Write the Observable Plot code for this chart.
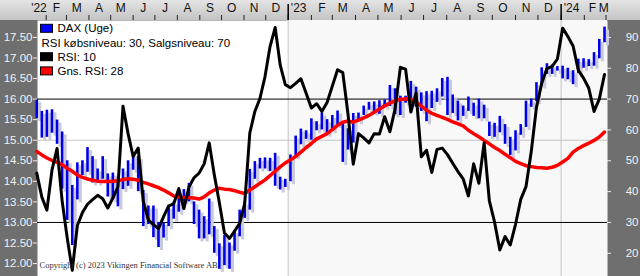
<!DOCTYPE html>
<html><head><meta charset="utf-8">
<script src="https://cdn.jsdelivr.net/npm/d3@7"></script>
<script src="https://cdn.jsdelivr.net/npm/@observablehq/plot@0.6"></script>
<style>
html,body{margin:0;padding:0;background:#fff;}
#chart svg{display:block;}
</style></head><body><div id="chart"></div>
<script>
// Weekly bars (Wednesday of each week), DAX in thousands
const weeks = d3.utcWednesday.range(new Date("2022-01-19"), new Date("2024-03-01"));

const high = [
  15.99,15.70,15.73,15.74,15.49,15.20,14.50,13.90,14.45,14.50,14.82,14.60,14.30,14.60,14.18,14.20,14.05,14.30,14.50,14.67,
  14.60,13.78,13.40,13.40,13.00,13.00,13.40,13.50,13.70,13.80,13.95,13.50,13.30,13.14,13.57,12.90,12.48,12.68,12.50,12.80,
  13.30,13.50,14.29,14.48,14.56,14.57,14.56,14.68,14.10,14.05,
  14.64,15.10,15.27,15.23,15.52,15.45,15.66,15.50,15.60,15.71,15.43,15.28,15.65,15.66,15.83,15.92,15.93,15.96,15.98,16.33,
  16.25,16.07,16.07,16.43,16.29,16.15,16.18,16.19,16.25,16.50,16.53,16.10,15.95,15.83,16.05,15.90,16.00,15.85,15.44,15.41,
  15.58,15.38,15.07,15.23,15.38,15.95,16.00,16.40,16.76,16.86,16.83,16.79,
  16.80,16.75,16.69,16.97,16.98,16.96,17.13,17.45,17.75
];
const low = [
  15.53,15.05,15.07,15.17,14.90,13.81,13.05,12.44,13.55,14.14,14.22,13.96,13.96,14.05,13.62,13.55,13.38,13.80,13.88,14.27,
  13.75,12.90,12.95,12.63,12.39,12.62,12.90,13.08,13.25,13.50,13.50,12.95,12.60,12.60,12.70,12.25,11.86,11.95,11.86,12.30,
  12.65,13.10,13.30,14.05,14.30,14.30,14.24,13.88,13.79,13.85,
  13.99,14.60,14.89,15.02,15.00,15.23,15.25,15.15,15.23,15.36,14.46,14.76,14.93,15.45,15.60,15.73,15.66,15.63,15.80,15.82,
  15.62,15.60,15.90,15.88,15.80,15.70,15.45,15.77,15.92,16.05,15.60,15.65,15.47,15.58,15.70,15.58,15.52,15.52,15.09,15.07,
  15.18,14.90,14.63,14.74,15.12,15.31,15.80,15.94,16.32,16.60,16.60,16.68,
  16.49,16.47,16.35,16.62,16.75,16.79,16.80,16.98,17.37
];
// RSI (10) and its 28-week average
const rsi = [
  46,38.2,34,47,54,37,25,14.5,29,33.2,35.9,37.4,38.8,37.7,34.7,37.9,41.5,67.7,58.8,51.4,
  54.1,36.8,30.8,29.3,28.0,31.9,35.4,36,41,34.5,41.5,44.5,46,49,55.8,45.5,36.4,26.6,24.8,27.2,
  29.7,36.2,59,66,70.2,77.3,87.1,93.2,81,74.7,
  73.7,75.1,76.6,71.9,67.1,68.5,66,68.9,74.2,79.5,78.6,65.1,48.9,58.8,57.4,55.8,58.8,58.7,64.3,59.4,
  66.9,80.3,79.7,65.8,72,51.3,53.4,46.2,53.7,54.1,52.0,49.2,46.5,44.1,38.6,49.0,42.7,55.8,37,30.1,
  21.1,25.4,22.7,29.4,37.5,41.6,52.9,67.3,75.1,79.9,80.6,83,
  93,90.3,87.2,79.3,76.8,73.5,66,70,78
];
const avgRsi = [
  53.0,51.9,50.9,50.1,49.5,48.7,47.6,46.6,45.4,44.6,44.1,43.7,43.4,43.3,43.3,43.4,43.5,43.9,44.2,44.0,
  43.7,43.0,42.5,41.9,41.3,40.5,39.6,38.6,38.2,38.1,38.0,37.9,37.6,38.3,39.6,40.5,41.1,40.8,40.7,40.3,
  39.8,39.4,40.5,41.6,42.7,43.8,45.2,46.6,48.0,49.3,
  50.3,51.4,52.8,54.3,55.6,57.1,57.9,58.8,60.1,61.5,62.5,62.9,62.5,63.2,63.9,64.7,65.7,66.8,67.8,68.7,
  69.5,69.9,70.1,69.9,69.0,67.7,66.4,65.4,64.7,64.1,63.4,62.6,62.0,61.3,59.9,58.8,57.8,56.6,55.5,54.3,
  53.3,52.1,51.0,49.8,49.1,48.4,48.1,47.8,47.7,47.6,47.9,48.5,
  49.6,50.8,52.8,54.0,54.9,55.7,56.6,57.7,59.3
];

const priceTicks = [12,12.5,13,13.5,14,14.5,15,15.5,16,16.5,17,17.5];
const rsiTicks = [20,30,40,50,60,70,80,90];
const rsiLevels = [30,70];
const monthNames = ["J","F","M","A","M","J","J","A","S","O","N","D"];
const yearStarts = [new Date("2023-01-01"), new Date("2024-01-01")];
const legendRows = [
  {label: "DAX (Uge)", color: "#0000ff", swatch: true},
  {label: "RSI købsniveau: 30, Salgsniveau: 70", color: null, swatch: false},
  {label: "RSI: 10", color: "#000000", swatch: true},
  {label: "Gns. RSI: 28", color: "#ff0000", swatch: true}
];
const copyright = "Copyright (c) 2023 Vikingen Financial Software AB";

const xStart = new Date("2022-01-20"), xEnd = new Date("2024-03-03");
const monthStarts = d3.utcMonth.range(new Date("2022-02-01"), new Date("2024-03-02"));
const monthLabels = d3.utcMonth.range(new Date("2022-01-01"), new Date("2024-03-02")).map(m => {
  let mid = d3.utcDay.offset(m, 14);
  if (mid < new Date("2022-01-22")) mid = new Date("2022-01-22");
  if (+mid === +new Date("2024-02-15")) mid = new Date("2024-02-12");
  if (mid > new Date("2024-02-27")) mid = new Date("2024-02-27");
  const mo = m.getUTCMonth();
  return {date: mid, label: mo === 0 ? "'" + String(m.getUTCFullYear()).slice(2) : monthNames[mo]};
});

// RSI shares the vertical axis: 70 ↔ 16.00, 30 ↔ 13.00
const toY = r => 16 + (r - 70) * 0.075;

const data = weeks.map((d, i) => ({date: d, high: high[i], low: low[i], rsi: rsi[i], avg: avgRsi[i]}));
const bands = [{start: new Date("2023-01-01"), end: xEnd}];

const font = "'Liberation Sans', Arial, sans-serif";

const legendMarks = legendRows.map((r, i) => Plot.text([r.label], {
  frameAnchor: "top-left", dx: r.swatch ? 20 : 4, dy: 8.3 + i * 14.2,
  textAnchor: "start", lineAnchor: "middle", fill: "#000", fontSize: 11.5
}));

const chart = Plot.plot({
  width: 640, height: 276,
  marginLeft: 37, marginRight: 33, marginTop: 20, marginBottom: 0,
  style: {background: "linear-gradient(to bottom, #e4e4e4 0px, #c4c4c4 20px, #6f6f6f 20px)", fontFamily: font, overflow: "visible"},
  x: {type: "utc", domain: [xStart, new Date("2023-01-01"), xEnd], range: [37, 287.7, 607], axis: null},
  y: {domain: [11.686, 17.911], axis: null},
  marks: [
    Plot.frame({fill: "#ffffff", stroke: null}),
    Plot.rect(bands, {x1: "start", x2: "end", fill: "#f8f8f8"}),
    Plot.ruleY([15], {stroke: "#c4c4c4"}),
    Plot.ruleX(yearStarts, {stroke: "#c4c4c4"}),
    Plot.ruleY(rsiLevels.map(toY), {stroke: "#000", strokeWidth: 1}),
    Plot.ruleX(data, {x: "date", y1: "low", y2: "high", stroke: "#c9c9dc", strokeWidth: 3, dx: 3, dy: 3}),
    Plot.ruleX(data, {x: "date", y1: "low", y2: "high", stroke: "#0000e8", strokeWidth: 2.6}),
    Plot.line(data, {x: "date", y: d => toY(d.avg), stroke: "#ff0000", strokeWidth: 3.5, curve: "linear"}),
    Plot.line(data, {x: "date", y: d => toY(d.rsi), stroke: "#000", strokeWidth: 3, curve: "linear"}),
    // top time axis
    Plot.ruleX(monthStarts, {insetTop: -5, insetBottom: 256, stroke: "#222"}),
    Plot.ruleX(yearStarts, {insetTop: -16, insetBottom: 256, stroke: "#000", strokeWidth: 1.5}),
    Plot.text(monthLabels, {x: "date", text: "label", frameAnchor: "top", dy: -12.5, lineAnchor: "middle", fill: "#111", fontSize: 12}),
    // left price axis
    Plot.ruleY(priceTicks, {insetLeft: -4, insetRight: 570, stroke: "#eeeeee"}),
    Plot.text(priceTicks, {y: d => d, text: d => d.toFixed(2), frameAnchor: "left", dx: -5, textAnchor: "end", lineAnchor: "middle", fill: "#f2f2f2", fontSize: 11.5}),
    // right RSI axis
    Plot.ruleY(rsiTicks.map(toY), {insetLeft: 570, insetRight: -4, stroke: "#eeeeee"}),
    Plot.text(rsiTicks, {y: toY, text: d => String(d), frameAnchor: "right", dx: 31, textAnchor: "end", lineAnchor: "middle", fill: "#f2f2f2", fontSize: 11.5}),
    ...legendMarks,
    Plot.text([copyright], {frameAnchor: "bottom-left", dx: 2, dy: -11, textAnchor: "start", lineAnchor: "middle", fontFamily: "'Liberation Serif', 'Times New Roman', serif", fontSize: 8.5, fill: "#333"})
  ]
});

// legend swatches
const sw = d3.select(chart).append("g");
legendRows.forEach((r, i) => {
  if (!r.swatch) return;
  sw.append("rect").attr("x", 40.5).attr("y", 28.3 + i * 14.2 - 4).attr("width", 12).attr("height", 8)
    .attr("fill", r.color).attr("stroke", "#000").attr("stroke-width", 1);
});

document.getElementById("chart").append(chart);
</script></body></html>
